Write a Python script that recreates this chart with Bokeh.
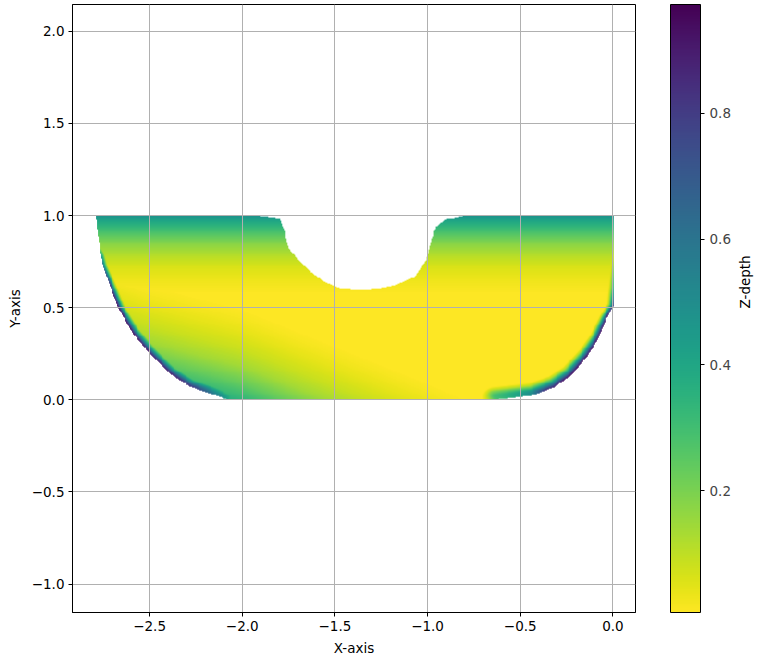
import numpy as np
from math import pi
from bokeh.plotting import figure
from bokeh.models import (Range1d, LinearColorMapper, ColorBar, FixedTicker, LinearAxis)
from bokeh.palettes import Viridis256
from bokeh.embed import file_html
from bokeh.resources import INLINE

# ---------------- data ----------------
# outer left silhouette: x of the edge at a given y
LEFT_Y = [0.0, 0.015, 0.07, 0.14, 0.25, 0.36, 0.5, 0.72, 0.9, 1.0]
LEFT_X = [-2.08, -2.12, -2.28, -2.39, -2.50, -2.59, -2.67, -2.75, -2.78, -2.79]
# outer right silhouette (then straight cut at x = 0)
RIGHT_Y = [0.0, 0.023, 0.068, 0.132, 0.24, 0.331, 0.44, 0.51, 1.0]
RIGHT_X = [-0.64, -0.44, -0.32, -0.23, -0.14, -0.084, -0.039, 0.0, 0.0]
# upper limit of the shape (top cut at y = 1 with the round hole)
HOLE_X = [-1.92, -1.80, -1.776, -1.750, -1.700, -1.640, -1.560, -1.480, -1.416, -1.308,
          -1.182, -1.074, -1.011, -0.984, -0.957, -0.912, -0.894, -0.80]
HOLE_Y = [1.0, 0.985, 0.919, 0.820, 0.760, 0.700, 0.640, 0.608, 0.597, 0.597,
          0.620, 0.665, 0.756, 0.864, 0.937, 0.973, 0.98, 1.0]

# depth near the top cut, by y
TOP_Y = [0.55, 0.65, 0.72, 0.78, 0.84, 0.88, 0.92, 0.96, 1.0]
TOP_Z = [0.0, 0.03, 0.06, 0.11, 0.17, 0.23, 0.30, 0.38, 0.48]
# depth in the lower-left band: reference line, and depth vs. distance below it
DIAG_LINE_X = [-2.8, -2.5, -2.0, -1.5, -1.0, -0.5]
DIAG_LINE_Y = [0.66, 0.55, 0.42, 0.22, 0.02, -0.2]
DIAG_D = [-0.1, 0.0, 0.06, 0.15, 0.24, 0.33, 0.42, 0.55]
DIAG_Z = [0.0, 0.025, 0.045, 0.085, 0.14, 0.23, 0.34, 0.5]
# rim depth at the silhouettes (edge depth and band width in px, by y)
RIM_L_Y = [0.0, 0.02, 0.07, 0.15, 0.55, 0.62, 0.7, 0.78, 0.85, 1.0]
RIM_L_AMP = [0.4, 0.55, 0.85, 0.95, 0.95, 0.85, 0.7, 0.45, 0.0, 0.0]
RIM_L_WY = [0.0, 0.07, 0.2, 0.36, 0.5, 0.7, 1.0]
RIM_L_W = [16, 15, 12, 10, 8, 6, 5]
RIM_R_Y = [0.0, 0.02, 0.05, 0.1, 0.45, 0.51, 0.6, 0.75, 0.85, 1.0]
RIM_R_AMP = [0.25, 0.45, 0.85, 0.95, 0.95, 0.85, 0.4, 0.15, 0.0, 0.0]
RIM_R_WY = [0.0, 0.1, 0.3, 0.5, 0.7, 1.0]
RIM_R_W = [14, 13, 10, 7, 5, 5]
RIM_T = [0.0, 0.15, 0.3, 0.5, 0.75, 1.0]
RIM_G = [1.0, 0.8, 0.6, 0.35, 0.12, 0.0]

X_TICKS = [-2.5, -2.0, -1.5, -1.0, -0.5, 0.0]
Y_TICKS = [-1.0, -0.5, 0.0, 0.5, 1.0, 1.5, 2.0]
CB_TICKS = [0.2, 0.4, 0.6, 0.8]
Z_LOW, Z_HIGH = 0.006, 0.973

# ---------------- raster of the depth field ----------------
X0, X1, Y0, Y1 = -2.80, 0.005, -0.005, 1.005
NX, NY = 562, 202
dx = (X1 - X0) / NX
dy = (Y1 - Y0) / NY
xc = X0 + (np.arange(NX) + 0.5) * dx
yc = Y0 + (np.arange(NY) + 0.5) * dy
XX, YY = np.meshgrid(xc, yc)

inside = (YY >= 0) & (YY <= np.interp(XX, HOLE_X, HOLE_Y))
inside &= XX >= np.interp(YY, LEFT_Y, LEFT_X)
inside &= XX <= np.interp(YY, RIGHT_Y, RIGHT_X)

SX, SY = 185.3, 184.3  # px per data unit


def poly_dist(px, py, xs, ys):
    best = np.full(px.shape, np.inf)
    for i in range(len(xs) - 1):
        ax, ay = xs[i] * SX, ys[i] * SY
        bx, by = xs[i + 1] * SX, ys[i + 1] * SY
        vx, vy = bx - ax, by - ay
        L2 = vx * vx + vy * vy
        t = np.clip(((px - ax) * vx + (py - ay) * vy) / L2, 0, 1)
        d = np.hypot(px - (ax + t * vx), py - (ay + t * vy))
        best = np.minimum(best, d)
    return best


PX, PY = XX * SX, YY * SY
dL = poly_dist(PX, PY, LEFT_X, LEFT_Y)
dR = poly_dist(PX, PY, RIGHT_X, RIGHT_Y)

z_top = np.interp(YY, TOP_Y, TOP_Z)
dv = np.interp(XX, DIAG_LINE_X, DIAG_LINE_Y) - YY
z_diag = np.interp(dv, DIAG_D, DIAG_Z)
z_rl = np.interp(YY, RIM_L_Y, RIM_L_AMP) * np.interp(dL / np.interp(YY, RIM_L_WY, RIM_L_W), RIM_T, RIM_G)
z_rr = np.interp(YY, RIM_R_Y, RIM_R_AMP) * np.interp(dR / np.interp(YY, RIM_R_WY, RIM_R_W), RIM_T, RIM_G)

Z = np.maximum.reduce([z_top, z_diag, z_rl, z_rr])
Z = np.clip(Z, Z_LOW, Z_HIGH)
Z = np.where(inside, Z, np.nan)

# ---------------- figure ----------------
FONT = "DejaVu Sans"
FS = "13.5px"

p = figure(frame_width=563, frame_height=608,
           x_range=Range1d(-2.916, 0.122), y_range=Range1d(-1.154, 2.145),
           output_backend="svg", toolbar_location=None,
           min_border_left=72, min_border_top=4, min_border_bottom=40, min_border_right=118,
           background_fill_color="white", border_fill_color="white")

mapper = LinearColorMapper(palette=list(reversed(Viridis256)), low=Z_LOW, high=Z_HIGH,
                           nan_color="rgba(0,0,0,0)")
p.image(image=[Z], x=X0, y=Y0, dw=X1 - X0, dh=Y1 - Y0, color_mapper=mapper, level="image")

p.outline_line_color = "black"
p.outline_line_width = 1
for g in (p.xgrid, p.ygrid):
    g.grid_line_color = "#b0b0b0"
    g.grid_line_width = 1
p.xgrid.ticker = FixedTicker(ticks=X_TICKS)
p.ygrid.ticker = FixedTicker(ticks=Y_TICKS)

p.xaxis.ticker = FixedTicker(ticks=X_TICKS)
p.yaxis.ticker = FixedTicker(ticks=Y_TICKS)
p.xaxis.major_label_overrides = {t: ("%.1f" % t).replace("-", "\u2212") for t in X_TICKS}
p.yaxis.major_label_overrides = {t: ("%.1f" % t).replace("-", "\u2212") for t in Y_TICKS}
p.xaxis.axis_label = "X-axis"
p.yaxis.axis_label = "Y-axis"
for ax in (p.xaxis, p.yaxis):
    ax.axis_line_color = "black"
    ax.major_tick_line_color = "black"
    ax.major_tick_out = 4
    ax.major_tick_in = 0
    ax.minor_tick_line_color = None
    ax.major_label_text_font = FONT
    ax.major_label_text_font_size = FS
    ax.major_label_text_color = "black"
    ax.axis_label_text_font = FONT
    ax.axis_label_text_font_size = FS
    ax.axis_label_text_font_style = "normal"
    ax.axis_label_text_color = "black"
    ax.major_label_standoff = 4
    ax.axis_label_standoff = 6

cb = ColorBar(color_mapper=mapper, ticker=FixedTicker(ticks=CB_TICKS), width=30, height=608,
              padding=0, margin=0, location=(35, 0),
              bar_line_color="black", bar_line_width=1,
              major_tick_line_color="black", major_tick_out=4, major_tick_in=0,
              minor_tick_line_color=None,
              major_label_text_font=FONT, major_label_text_font_size=FS,
              label_standoff=5, background_fill_color=None, border_line_color=None)
p.add_layout(cb, "right")

# colour bar caption, as a bare axis placed right of the colour bar
zax = LinearAxis(axis_label="Z-depth", ticker=FixedTicker(ticks=[]),
                 axis_line_color=None, major_tick_line_color=None, minor_tick_line_color=None,
                 major_label_text_font_size="0px", major_tick_out=0, major_tick_in=0,
                 axis_label_text_font=FONT, axis_label_text_font_size=FS,
                 axis_label_text_font_style="normal", axis_label_text_color="black",
                 axis_label_text_align="center", axis_label_standoff=11)
try:
    zax.axis_label_orientation = pi / 2
except Exception:
    pass
p.add_layout(zax, "right")

open("out.html", "w").write(file_html(p, INLINE))
